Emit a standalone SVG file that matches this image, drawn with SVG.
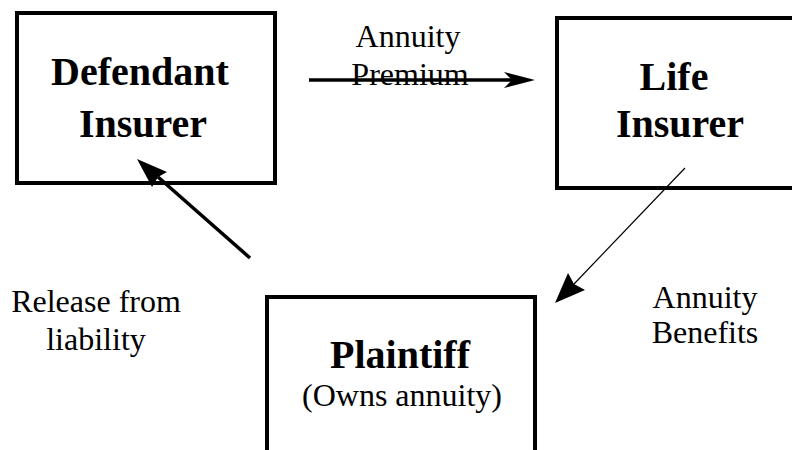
<svg xmlns="http://www.w3.org/2000/svg" width="792" height="450" viewBox="0 0 792 450">
<style>
.box{fill:#fff;stroke:#000;stroke-width:4}
.b{font-family:"Liberation Serif","Times New Roman",serif;font-weight:bold;font-size:40px;fill:#000;text-anchor:middle}
.r{font-family:"Liberation Serif","Times New Roman",serif;font-size:32px;fill:#000;text-anchor:middle}
.ln{stroke:#000;fill:none}
.hd{fill:#000;stroke:none}
</style>
<rect width="792" height="450" fill="#fff"/>
<g id="defendant">
<rect class="box" x="17" y="13" width="258" height="170"/>
<text class="b" x="140" y="85">Defendant</text>
<text class="b" x="143" y="137">Insurer</text>
</g>
<g id="life">
<rect class="box" x="557" y="18" width="270" height="170"/>
<text class="b" x="674" y="90">Life</text>
<text class="b" x="680" y="137">Insurer</text>
</g>
<g id="plaintiff">
<rect class="box" x="267" y="297" width="268" height="190"/>
<text class="b" x="400" y="368">Plaintiff</text>
<text class="r" x="402" y="406">(Owns annuity)</text>
</g>
<g id="connectors">
<line class="ln" x1="309" y1="80" x2="512" y2="80" stroke-width="3.5"/>
<polygon class="hd" points="535,80 504,72 512,80 504,88"/>
<line class="ln" x1="250" y1="258" x2="158" y2="177" stroke-width="3.5"/>
<polygon class="hd" points="137,159 167,172 158,177 152,187"/>
<line class="ln" x1="685" y1="168" x2="574" y2="284" stroke-width="1.2"/>
<polygon class="hd" points="555,303 568,273 574,284 585,290"/>
</g>
<g id="labels">
<text class="r" x="408" y="47">Annuity</text>
<text class="r" x="410" y="85">Premium</text>
<text class="r" x="96" y="312">Release from</text>
<text class="r" x="96" y="350">liability</text>
<text class="r" x="705" y="308">Annuity</text>
<text class="r" x="705" y="343">Benefits</text>
</g>
</svg>
